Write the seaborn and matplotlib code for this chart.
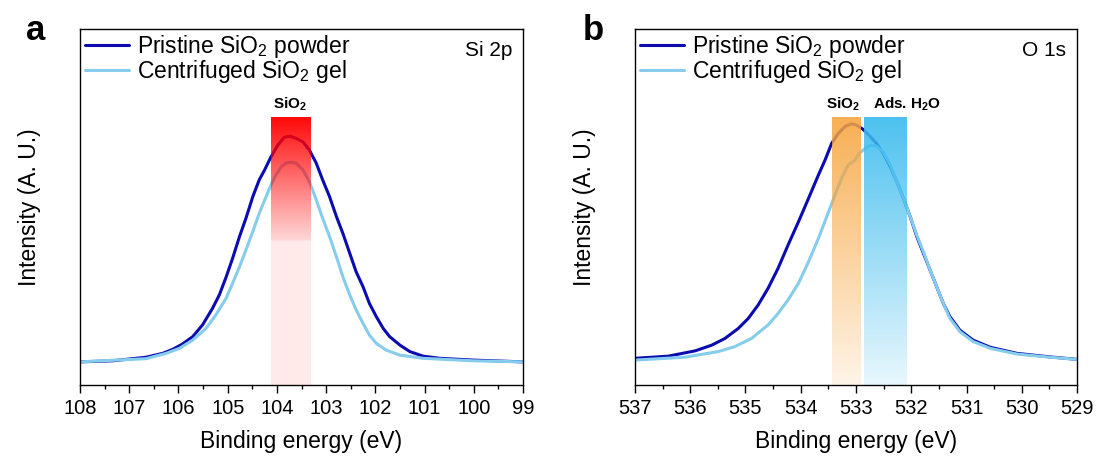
import numpy as np
import pandas as pd
import matplotlib
matplotlib.use("Agg")
import matplotlib.pyplot as plt
from matplotlib.colors import to_rgb
from matplotlib.ticker import MultipleLocator
import seaborn as sns

# ---- Si 2p (panel a) ----
si_ev = [108.0, 107.34, 106.66, 106.32, 106.12, 105.92, 105.71, 105.51, 105.31, 105.17,
         105.03, 104.90, 104.76, 104.63, 104.49, 104.36, 104.25, 104.12, 103.98, 103.85,
         103.74, 103.61, 103.47, 103.34, 103.20, 103.07, 102.93, 102.79, 102.66, 102.52,
         102.39, 102.25, 102.12, 101.98, 101.84, 101.71, 101.50, 101.30, 101.03, 100.69,
         100.01, 99.0]
si_pristine = [0.065, 0.068, 0.078, 0.089, 0.100, 0.115, 0.136, 0.169, 0.215, 0.253,
               0.304, 0.356, 0.417, 0.468, 0.529, 0.576, 0.604, 0.641, 0.674, 0.696,
               0.699, 0.693, 0.683, 0.660, 0.623, 0.576, 0.529, 0.473, 0.426, 0.370,
               0.318, 0.276, 0.229, 0.192, 0.159, 0.136, 0.112, 0.094, 0.081, 0.075,
               0.070, 0.065]
si_ev_gel = [108.0, 106.66, 106.25, 105.98, 105.71, 105.44, 105.24, 105.03, 104.90, 104.76,
             104.63, 104.49, 104.36, 104.22, 104.12, 104.02, 103.91, 103.81, 103.71, 103.61,
             103.47, 103.34, 103.20, 103.07, 102.93, 102.79, 102.66, 102.52, 102.39, 102.25,
             102.12, 101.98, 101.78, 101.50, 101.03, 100.01, 99.0]
si_gel = [0.065, 0.074, 0.089, 0.103, 0.126, 0.159, 0.197, 0.244, 0.286, 0.332,
          0.379, 0.431, 0.482, 0.529, 0.562, 0.590, 0.613, 0.624, 0.626, 0.623,
          0.604, 0.571, 0.520, 0.468, 0.417, 0.360, 0.304, 0.253, 0.211, 0.173,
          0.140, 0.117, 0.098, 0.084, 0.075, 0.068, 0.065]

# ---- O 1s (panel b) ----
o_ev = [537.0, 536.40, 535.91, 535.61, 535.37, 535.13, 534.95, 534.77, 534.59, 534.41,
        534.23, 534.04, 533.86, 533.68, 533.56, 533.44, 533.32, 533.20, 533.08, 532.99,
        532.87, 532.75, 532.63, 532.51, 532.38, 532.26, 532.14, 532.02, 531.90, 531.78,
        531.66, 531.54, 531.42, 531.30, 531.12, 530.88, 530.57, 530.09, 529.49, 529.0]
o_pristine = [0.075, 0.081, 0.096, 0.112, 0.131, 0.159, 0.187, 0.225, 0.272, 0.328,
              0.393, 0.459, 0.524, 0.590, 0.632, 0.679, 0.707, 0.726, 0.734, 0.730,
              0.718, 0.699, 0.679, 0.651, 0.613, 0.571, 0.524, 0.473, 0.417, 0.370,
              0.323, 0.276, 0.229, 0.192, 0.154, 0.126, 0.106, 0.089, 0.079, 0.072]
o_ev_gel = [537.0, 536.10, 535.49, 535.19, 534.89, 534.59, 534.41, 534.23, 534.04, 533.86,
            533.68, 533.53, 533.38, 533.26, 533.14, 533.02, 532.93, 532.81, 532.72, 532.63,
            532.51, 532.38, 532.26, 532.14, 532.02, 531.90, 531.78, 531.66, 531.54, 531.42,
            531.30, 531.12, 530.88, 530.57, 530.09, 529.49, 529.0]
o_gel = [0.070, 0.078, 0.094, 0.108, 0.131, 0.169, 0.201, 0.239, 0.286, 0.346,
         0.412, 0.473, 0.534, 0.581, 0.618, 0.632, 0.652, 0.668, 0.674, 0.671,
         0.655, 0.618, 0.571, 0.524, 0.473, 0.421, 0.374, 0.323, 0.276, 0.229,
         0.187, 0.150, 0.122, 0.103, 0.087, 0.078, 0.072]

# highlighted bands (eV ranges)
si_band = (104.13, 103.32)
o_band_sio2 = (533.43, 532.91)
o_band_h2o = (532.86, 532.09)

labels = ["Pristine SiO$_2$ powder", "Centrifuged SiO$_2$ gel"]
colors = ["#0b0bb0", "#86ccec"]

sns.set_style("ticks")
plt.rcParams["font.family"] = ["Liberation Sans", "DejaVu Sans"]
plt.rcParams["mathtext.fontset"] = "custom"
plt.rcParams["mathtext.rm"] = "Liberation Sans"
plt.rcParams["mathtext.bf"] = "Liberation Sans:bold"
plt.rcParams["text.color"] = "black"
plt.rcParams["axes.labelcolor"] = "black"
plt.rcParams["xtick.color"] = "black"

fig = plt.figure(figsize=(10.98, 4.59), dpi=100)
ax_a = fig.add_axes([0.0729, 0.1612, 0.4034, 0.7756])
ax_b = fig.add_axes([0.5783, 0.1612, 0.4026, 0.7756])


def gradient_band(ax, x0, x1, top, color, stops, alphas):
    # stops run from bottom (0) to top (1) of the band
    pos = np.linspace(1, 0, 300)  # image rows, top -> bottom
    a = np.interp(pos, stops, alphas)
    rgba = np.zeros((300, 1, 4))
    rgba[:, 0, :3] = to_rgb(color)
    rgba[:, 0, 3] = a
    ax.imshow(rgba, extent=[x0, x1, 0, top], aspect="auto", origin="upper",
              zorder=3, interpolation="bilinear")


def draw_panel(ax, ev1, y1, ev2, y2, xlim):
    df1 = pd.DataFrame({"ev": ev1, "y": y1})
    df2 = pd.DataFrame({"ev": ev2, "y": y2})
    sns.lineplot(data=df1, x="ev", y="y", ax=ax, color=colors[0], lw=2.2, label=labels[0])
    sns.lineplot(data=df2, x="ev", y="y", ax=ax, color=colors[1], lw=2.2, label=labels[1])
    ax.set_xlim(*xlim)
    ax.set_ylim(0, 1)
    ax.xaxis.set_major_locator(MultipleLocator(1))
    ax.xaxis.set_minor_locator(MultipleLocator(0.5))
    ax.set_yticks([])
    ax.tick_params(axis="x", which="major", direction="out", length=6, width=1,
                   labelsize=14.5, pad=4)
    ax.tick_params(axis="x", which="minor", direction="out", length=3, width=1)
    for s in ax.spines.values():
        s.set_visible(True)
        s.set_color("black")
        s.set_linewidth(1.0)
    ax.set_xlabel("Binding energy (eV)", fontsize=16.5, labelpad=9)
    ax.set_ylabel("Intensity (A. U.)", fontsize=16.5, labelpad=28)
    leg = ax.legend(loc="upper left", bbox_to_anchor=(-0.009, 1.015), frameon=False,
                    fontsize=16.5, handlelength=1.9, handletextpad=0.35,
                    labelspacing=-0.10, borderaxespad=0.0)
    for line in leg.get_lines():
        line.set_linewidth(2.2)


draw_panel(ax_a, si_ev, si_pristine, si_ev_gel, si_gel, (108, 99))
draw_panel(ax_b, o_ev, o_pristine, o_ev_gel, o_gel, (537, 529))

band_top = 0.752
gradient_band(ax_a, si_band[0], si_band[1], band_top, "#ff0000",
              [0.0, 0.535, 0.545, 1.0], [0.09, 0.09, 0.17, 0.97])
gradient_band(ax_b, o_band_sio2[0], o_band_sio2[1], band_top, "#f7a43c",
              [0.0, 1.0], [0.12, 0.88])
gradient_band(ax_b, o_band_h2o[0], o_band_h2o[1], band_top, "#3dbcee",
              [0.0, 1.0], [0.12, 0.92])
ax_a.set_xlim(108, 99)
ax_a.set_ylim(0, 1)
ax_b.set_xlim(537, 529)
ax_b.set_ylim(0, 1)

ax_a.text(sum(si_band) / 2, 0.765, "SiO$_\\mathbf{2}$", ha="center", va="bottom",
          fontsize=11, fontweight="bold")
ax_b.text(533.24, 0.765, "SiO$_\\mathbf{2}$", ha="center", va="bottom",
          fontsize=11, fontweight="bold")
ax_b.text(532.08, 0.765, "Ads. H$_\\mathbf{2}$O", ha="center", va="bottom",
          fontsize=11, fontweight="bold")

ax_a.text(0.975, 0.94, "Si 2p", transform=ax_a.transAxes, ha="right", va="center", fontsize=15)
ax_b.text(0.975, 0.94, "O 1s", transform=ax_b.transAxes, ha="right", va="center", fontsize=15)

fig.text(0.024, 0.913, "a", fontsize=25, fontweight="bold", va="baseline")
fig.text(0.531, 0.913, "b", fontsize=25, fontweight="bold", va="baseline")

fig.savefig("out.png", dpi=100)
